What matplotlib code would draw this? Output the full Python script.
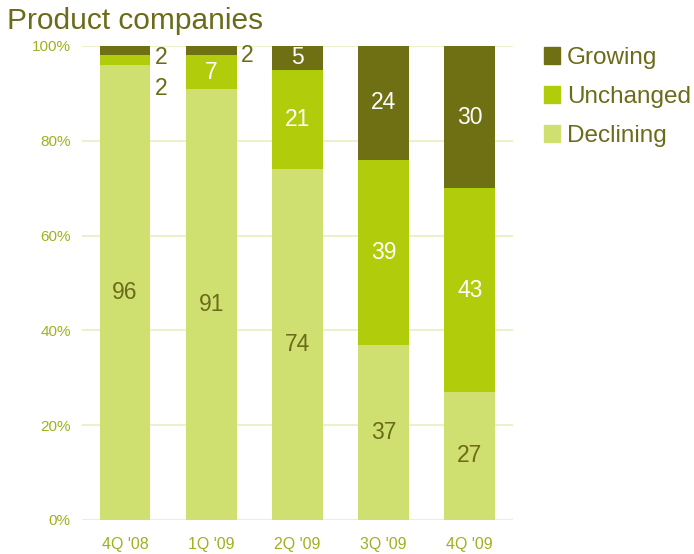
import numpy as np
import matplotlib.pyplot as plt
from matplotlib.patches import Patch

plt.rcParams['font.family'] = ['Liberation Sans', 'DejaVu Sans']

quarters = ["4Q '08", "1Q '09", "2Q '09", "3Q '09", "4Q '09"]
declining = [96, 91, 74, 37, 27]
unchanged = [2, 7, 21, 39, 43]
growing = [2, 2, 5, 24, 30]

c_dec = '#d0e070'
c_unc = '#b0cc0a'
c_gro = '#6f6f14'
c_text = '#6b6b1a'
c_tick = '#a0b020'
c_grid = '#eaf2cc'

fig = plt.figure(figsize=(6.94, 5.54), dpi=100)
ax = fig.add_axes([0.118, 0.0614, 0.621, 0.8556])

x = np.arange(len(quarters))
w = 0.59
dec = np.array(declining)
unc = np.array(unchanged)
gro = np.array(growing)

ax.bar(x, dec, w, color=c_dec, zorder=2)
ax.bar(x, unc, w, bottom=dec, color=c_unc, zorder=2)
ax.bar(x, gro, w, bottom=dec + unc, color=c_gro, zorder=2)

fs = 16.5
for i in range(len(x)):
    ax.text(x[i], dec[i] / 2, str(dec[i]), ha='center', va='center',
            color=c_text, fontsize=fs, zorder=3)
    if unc[i] >= 5:
        ax.text(x[i], dec[i] + unc[i] / 2, str(unc[i]), ha='center', va='center',
                color='white', fontsize=fs, zorder=3)
    if gro[i] >= 5:
        ax.text(x[i], dec[i] + unc[i] + gro[i] / 2, str(gro[i]), ha='center',
                va='center', color='white', fontsize=fs, zorder=3)

# small segments labelled beside the bars
ax.text(x[0] + w / 2 + 0.05, 97.6, str(gro[0]), ha='left', va='center',
        color=c_text, fontsize=fs, zorder=3)
ax.text(x[0] + w / 2 + 0.05, 91.0, str(unc[0]), ha='left', va='center',
        color=c_text, fontsize=fs, zorder=3)
ax.text(x[1] + w / 2 + 0.05, 98.0, str(gro[1]), ha='left', va='center',
        color=c_text, fontsize=fs, zorder=3)

ax.set_xlim(-0.5, len(x) - 0.5)
ax.set_ylim(0, 100)
ax.set_yticks(np.arange(0, 101, 20))
ax.set_yticklabels([f'{v}%' for v in range(0, 101, 20)])
ax.set_xticks(x)
ax.set_xticklabels(quarters)
ax.tick_params(axis='both', length=0, colors=c_tick, labelsize=11)
ax.tick_params(axis='x', labelsize=11.5, pad=12)
ax.tick_params(axis='y', pad=8)
ax.yaxis.grid(True, color=c_grid, linewidth=1.5, zorder=0)
ax.set_axisbelow(True)
for s in ax.spines.values():
    s.set_visible(False)

fig.text(0.01, 0.962, 'Product companies', fontsize=21.5, color=c_text,
         ha='left', va='center')

handles = [Patch(color=c_gro, label='Growing'),
           Patch(color=c_unc, label='Unchanged'),
           Patch(color=c_dec, label='Declining')]
leg = fig.legend(handles=handles, loc='upper left', bbox_to_anchor=(0.784, 0.915),
                 frameon=False, fontsize=17.5, handlelength=0.65, handleheight=0.65,
                 handletextpad=0.3, labelspacing=0.7, borderpad=0, borderaxespad=0)
for t in leg.get_texts():
    t.set_color(c_text)

fig.savefig('out.png', dpi=100)
